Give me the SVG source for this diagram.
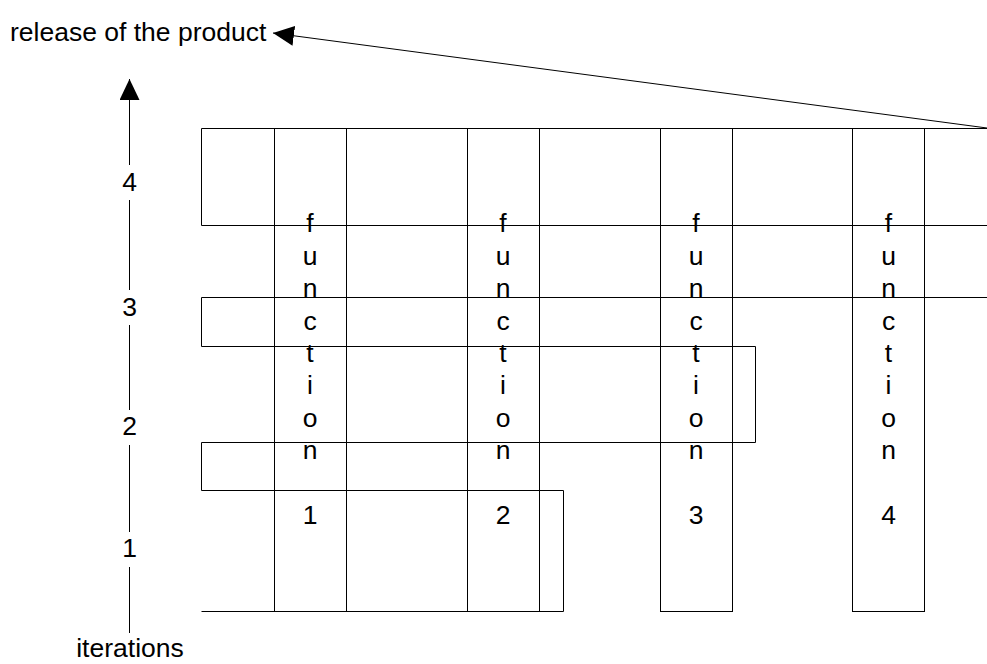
<svg xmlns="http://www.w3.org/2000/svg" width="987" height="664" viewBox="0 0 987 664">
  <defs>
    <marker id="head" viewBox="0 0 21 20" refX="21" refY="10" markerWidth="21" markerHeight="20" markerUnits="userSpaceOnUse" orient="auto">
      <path d="M0,0 L21,10 L0,20 Z" fill="#000"/>
    </marker>
    <style>
      .ln { fill: none; stroke: #000; stroke-width: 1; }
      .txt { font-family: "Liberation Sans", Arial, sans-serif; font-size: 26.5px; fill: #000; }
      .mid { text-anchor: middle; }
    </style>
  </defs>
  <rect width="987" height="664" fill="#fff"/>

  <!-- iteration bands -->
  <g id="iteration-4">
    <path class="ln" d="M987,128.5 H201.5 V225.5 H987"/>
  </g>
  <g id="iteration-3">
    <path class="ln" d="M987,297.5 H201.5 V346.5 H755.5 V442.5 H201.5"/>
  </g>
  <g id="iteration-2">
    <path class="ln" d="M201.5,442.5 V490.5 H563.5 V611.5 H201.5"/>
  </g>

  <!-- function columns -->
  <g id="function-1">
    <rect class="ln" x="274.5" y="128.5" width="72" height="483"/>
    <text class="txt mid"><tspan x="310" y="232">f</tspan><tspan x="310" y="264.5">u</tspan><tspan x="310" y="297">n</tspan><tspan x="310" y="329.5">c</tspan><tspan x="310" y="362">t</tspan><tspan x="310" y="394">i</tspan><tspan x="310" y="427">o</tspan><tspan x="310" y="459">n</tspan><tspan x="310" y="524">1</tspan></text>
  </g>
  <g id="function-2">
    <rect class="ln" x="467.5" y="128.5" width="72" height="483"/>
    <text class="txt mid"><tspan x="503" y="232">f</tspan><tspan x="503" y="264.5">u</tspan><tspan x="503" y="297">n</tspan><tspan x="503" y="329.5">c</tspan><tspan x="503" y="362">t</tspan><tspan x="503" y="394">i</tspan><tspan x="503" y="427">o</tspan><tspan x="503" y="459">n</tspan><tspan x="503" y="524">2</tspan></text>
  </g>
  <g id="function-3">
    <rect class="ln" x="660.5" y="128.5" width="72" height="483"/>
    <text class="txt mid"><tspan x="696" y="232">f</tspan><tspan x="696" y="264.5">u</tspan><tspan x="696" y="297">n</tspan><tspan x="696" y="329.5">c</tspan><tspan x="696" y="362">t</tspan><tspan x="696" y="394">i</tspan><tspan x="696" y="427">o</tspan><tspan x="696" y="459">n</tspan><tspan x="696" y="524">3</tspan></text>
  </g>
  <g id="function-4">
    <rect class="ln" x="852.5" y="128.5" width="72" height="483"/>
    <text class="txt mid"><tspan x="888.5" y="232">f</tspan><tspan x="888.5" y="264.5">u</tspan><tspan x="888.5" y="297">n</tspan><tspan x="888.5" y="329.5">c</tspan><tspan x="888.5" y="362">t</tspan><tspan x="888.5" y="394">i</tspan><tspan x="888.5" y="427">o</tspan><tspan x="888.5" y="459">n</tspan><tspan x="888.5" y="524">4</tspan></text>
  </g>

  <!-- iteration axis labels -->
  <g id="axis-labels">
    <text class="txt mid" x="129.5" y="191">4</text>
    <text class="txt mid" x="129.5" y="316">3</text>
    <text class="txt mid" x="129.5" y="435">2</text>
    <text class="txt mid" x="129.5" y="557">1</text>
    <text class="txt mid" x="130" y="657">iterations</text>
  </g>
  <g id="release-label">
    <text class="txt" x="10" y="41">release of the product</text>
  </g>

  <!-- connectors -->
  <g id="connectors">
    <path class="ln" d="M129.5,633 V567 M129.5,532 V445 M129.5,410 V325 M129.5,290 V200 M129.5,165 V79" marker-end="url(#head)"/>
    <line class="ln" x1="987" y1="128" x2="273" y2="33" marker-end="url(#head)"/>
  </g>
</svg>
